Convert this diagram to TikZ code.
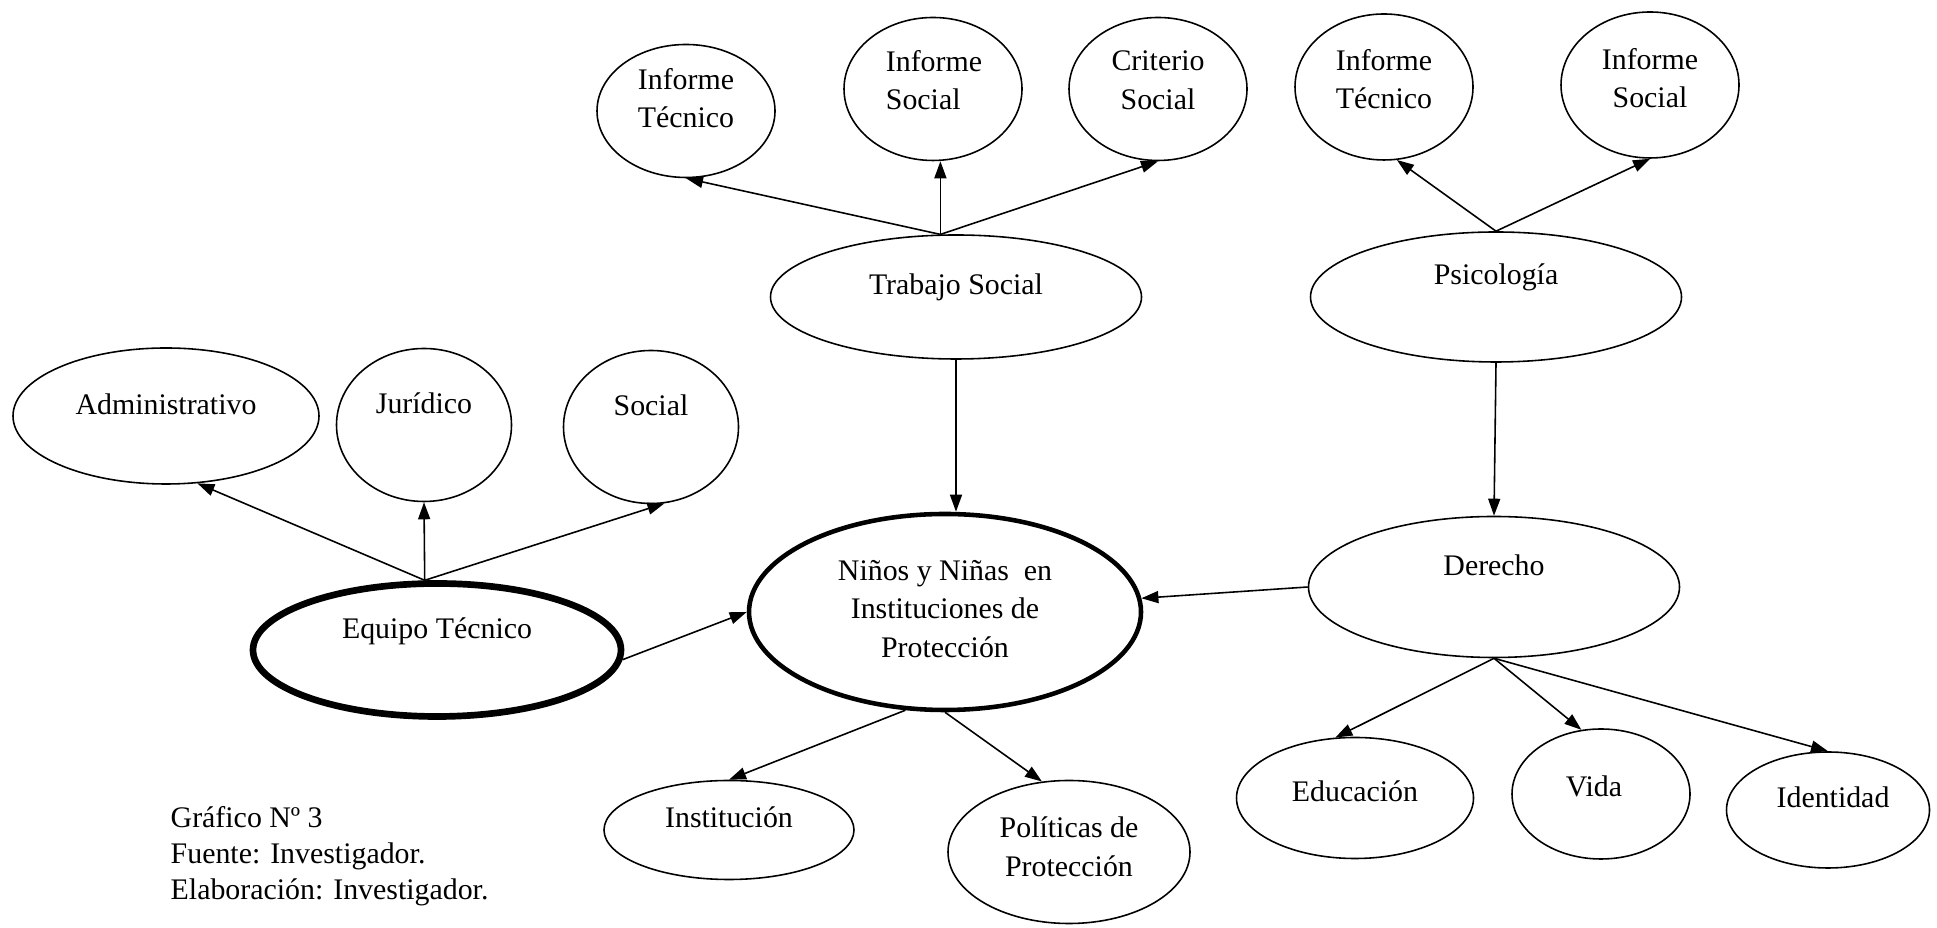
\documentclass[tikz,border=0pt]{standalone}
\usepackage{fontspec}
\setmainfont{Liberation Serif}
\usetikzlibrary{shapes.geometric,arrows.meta}

\begin{document}
\begin{tikzpicture}[
    font=\fontsize{8.5}{11}\selectfont,
    elip/.style={draw,ellipse,line width=.45pt,inner sep=0pt},
    elipgruesa/.style={draw,ellipse,line width=1.3pt,inner sep=0pt},
    texto/.style={align=center,inner sep=0pt},
    flecha/.style={draw,line width=.45pt,-{Triangle[length=1.7mm,width=1.2mm]}}
  ]
  \useasboundingbox (0,0) rectangle (19.37,-9.28);

  % equipo tecnico
  \node[elip,minimum width=3.06cm,minimum height=1.36cm] (adm) at (1.66,-4.16) {};
  \node[elip,minimum width=1.75cm,minimum height=1.53cm] (jur) at (4.24,-4.25) {};
  \node[elip,minimum width=1.75cm,minimum height=1.53cm] (soc) at (6.51,-4.27) {};
  \node[elipgruesa,line width=1.9pt,minimum width=3.68cm,minimum height=1.33cm] (eq) at (4.37,-6.50) {};

  \node[texto] (adm-t) at (1.66,-4.04) {Administrativo};
  \node[texto] (jur-t) at (4.24,-4.03) {Jurídico};
  \node[texto] (soc-t) at (6.51,-4.05) {Social};
  \node[texto] (eq-t) at (4.37,-6.31) {Equipo Técnico};

  \path[flecha] (eq.100) -- (adm.-65);
  \path[flecha] (eq.100) -- (jur.south);
  \path[flecha] (eq.100) -- (soc.-80);

  % centro
  \node[elipgruesa,minimum width=3.92cm,minimum height=1.96cm] (nin) at (9.45,-6.12) {};
  \node[texto] (nin-t) at (9.45,-6.09) {Niños y Niñas~ en\\Instituciones de\\Protección};

  \path[flecha] (eq.-3) -- (nin.west);

  % trabajo social
  \node[elip,minimum width=3.71cm,minimum height=1.24cm] (ts) at (9.56,-2.97) {};
  \node[elip,minimum width=1.78cm,minimum height=1.33cm] (it1) at (6.86,-1.11) {};
  \node[elip,minimum width=1.78cm,minimum height=1.43cm] (is1) at (9.33,-0.89) {};
  \node[elip,minimum width=1.78cm,minimum height=1.43cm] (cs) at (11.58,-0.89) {};

  \node[texto] (ts-t) at (9.56,-2.87) {Trabajo Social};
  \node[texto] (it1-t) at (6.86,-0.98) {Informe\\Técnico};
  \node[texto,align=left] (is1-t) at (9.34,-0.80) {Informe\\Social};
  \node[texto] (cs-t) at (11.58,-0.80) {Criterio\\Social};

  \path[flecha] (ts.104) -- (it1.south);
  \path[flecha] (ts.104) -- (ts.104 |- is1.south);
  \path[flecha] (ts.104) -- (cs.south);
  \path[flecha] (ts.south) -- (ts.south |- nin.north);

  % psicologia
  \node[elip,minimum width=3.71cm,minimum height=1.30cm] (ps) at (14.96,-2.97) {};
  \node[elip,minimum width=1.78cm,minimum height=1.46cm] (it2) at (13.84,-0.87) {};
  \node[elip,minimum width=1.78cm,minimum height=1.46cm] (is2) at (16.50,-0.85) {};

  \node[texto] (ps-t) at (14.96,-2.77) {Psicología};
  \node[texto] (it2-t) at (13.84,-0.79) {Informe\\Técnico};
  \node[texto] (is2-t) at (16.50,-0.78) {Informe\\Social};

  \path[flecha] (ps.north) -- (it2.-80);
  \path[flecha] (ps.north) -- (is2.south);

  % derecho
  \node[elip,minimum width=3.71cm,minimum height=1.41cm] (de) at (14.94,-5.87) {};
  \node[elip,minimum width=2.37cm,minimum height=1.21cm] (ed) at (13.55,-7.98) {};
  \node[elip,minimum width=1.78cm,minimum height=1.30cm] (vi) at (16.01,-7.94) {};
  \node[elip,minimum width=2.03cm,minimum height=1.16cm] (id) at (18.28,-8.10) {};

  \node[texto] (de-t) at (14.94,-5.65) {Derecho};
  \node[texto] (ed-t) at (13.55,-7.91) {Educación};
  \node[texto] (vi-t) at (15.94,-7.86) {Vida};
  \node[texto] (id-t) at (18.33,-7.97) {Identidad};

  \path[flecha] (ps.south) -- (de.north);
  \path[flecha] (de.west) -- (nin.4);
  \path[flecha] (de.south) -- (ed.108);
  \path[flecha] (de.south) -- (vi.107);
  \path[flecha] (de.south) -- (id.north);

  % abajo
  \node[elip,minimum width=2.50cm,minimum height=0.99cm] (ins) at (7.29,-8.30) {};
  \node[elip,minimum width=2.42cm,minimum height=1.43cm] (pol) at (10.69,-8.52) {};

  \node[texto] (ins-t) at (7.29,-8.17) {Institución};
  \node[texto] (pol-t) at (10.69,-8.47) {Políticas de\\Protección};

  \path[flecha] (nin.-112) -- (ins.north);
  \path[flecha] (nin.south) -- (pol.111);

  \node[texto,align=left,anchor=west,font=\fontsize{8.5}{10.2}\selectfont] (nota) at (1.70,-8.56)
    {Gráfico Nº 3\\Fuente: Investigador.\\Elaboración: Investigador.};
\end{tikzpicture}
\end{document}
